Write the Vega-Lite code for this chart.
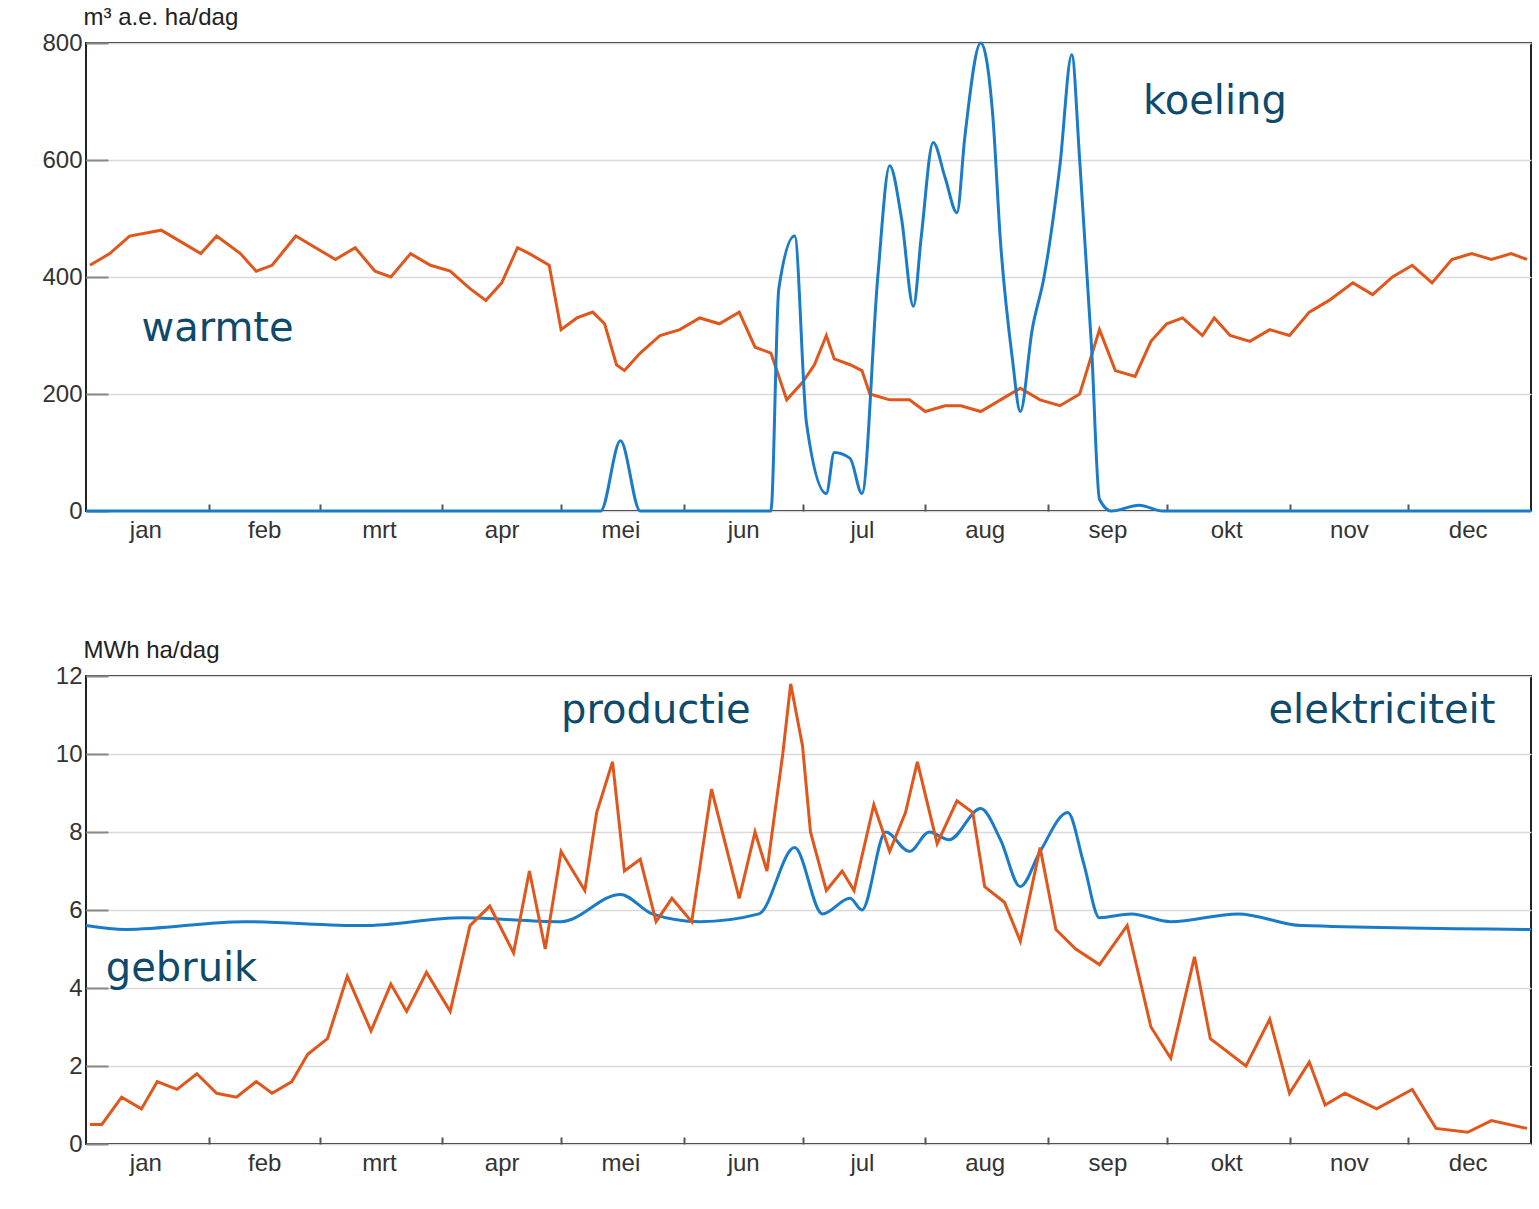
{
"$schema":"https://vega.github.io/schema/vega-lite/v6.json",
"background":"white",
"padding":{"left":40,"top":4,"right":5,"bottom":5},
"config":{"view":{"stroke":"#222","strokeWidth":2},"font":"Liberation Sans",
"axis":{"labelFont":"Liberation Sans","labelFontSize":24,"labelColor":"#333","titleFont":"Liberation Sans","titleFontSize":24,"titleFontWeight":"normal","titleColor":"#222","domain":false,"gridColor":"#d9d9d9","gridWidth":1.5,"tickColor":"#555","tickWidth":2}},
"datasets":{
"warmte":[{"d":1,"v":420},{"d":6,"v":440},{"d":11,"v":470},{"d":19,"v":480},{"d":24,"v":460},{"d":29,"v":440},{"d":33,"v":470},{"d":39,"v":440},{"d":43,"v":410},{"d":47,"v":420},{"d":53,"v":470},{"d":58,"v":450},{"d":63,"v":430},{"d":68,"v":450},{"d":73,"v":410},{"d":77,"v":400},{"d":82,"v":440},{"d":87,"v":420},{"d":92,"v":410},{"d":97,"v":380},{"d":101,"v":360},{"d":105,"v":390},{"d":109,"v":450},{"d":112,"v":440},{"d":117,"v":420},{"d":120,"v":310},{"d":124,"v":330},{"d":128,"v":340},{"d":131,"v":320},{"d":134,"v":250},{"d":136,"v":240},{"d":140,"v":270},{"d":145,"v":300},{"d":150,"v":310},{"d":155,"v":330},{"d":160,"v":320},{"d":165,"v":340},{"d":169,"v":280},{"d":173,"v":270},{"d":177,"v":190},{"d":181,"v":220},{"d":184,"v":250},{"d":187,"v":300},{"d":189,"v":260},{"d":193,"v":250},{"d":196,"v":240},{"d":198,"v":200},{"d":203,"v":190},{"d":208,"v":190},{"d":212,"v":170},{"d":217,"v":180},{"d":221,"v":180},{"d":226,"v":170},{"d":231,"v":190},{"d":236,"v":210},{"d":241,"v":190},{"d":246,"v":180},{"d":251,"v":200},{"d":256,"v":310},{"d":260,"v":240},{"d":265,"v":230},{"d":269,"v":290},{"d":273,"v":320},{"d":277,"v":330},{"d":282,"v":300},{"d":285,"v":330},{"d":289,"v":300},{"d":294,"v":290},{"d":299,"v":310},{"d":304,"v":300},{"d":309,"v":340},{"d":314,"v":360},{"d":320,"v":390},{"d":325,"v":370},{"d":330,"v":400},{"d":335,"v":420},{"d":340,"v":390},{"d":345,"v":430},{"d":350,"v":440},{"d":355,"v":430},{"d":360,"v":440},{"d":364,"v":430}],
"koeling":[{"d":0,"v":0},{"d":130,"v":0},{"d":135,"v":120},{"d":140,"v":0},{"d":173,"v":0},{"d":175,"v":380},{"d":179,"v":470},{"d":182,"v":150},{"d":187,"v":30},{"d":189,"v":100},{"d":193,"v":90},{"d":196,"v":30},{"d":200,"v":400},{"d":203,"v":590},{"d":206,"v":500},{"d":209,"v":350},{"d":211,"v":470},{"d":214,"v":630},{"d":217,"v":570},{"d":220,"v":510},{"d":222,"v":640},{"d":226,"v":800},{"d":229,"v":680},{"d":231,"v":460},{"d":234,"v":260},{"d":236,"v":170},{"d":239,"v":310},{"d":242,"v":400},{"d":246,"v":590},{"d":249,"v":780},{"d":251,"v":600},{"d":254,"v":280},{"d":256,"v":20},{"d":259,"v":0},{"d":266,"v":10},{"d":272,"v":0},{"d":365,"v":0}],
"gebruik":[{"d":0,"v":5.6},{"d":10,"v":5.5},{"d":40,"v":5.7},{"d":70,"v":5.6},{"d":95,"v":5.8},{"d":120,"v":5.7},{"d":135,"v":6.4},{"d":143,"v":5.9},{"d":155,"v":5.7},{"d":170,"v":5.9},{"d":179,"v":7.6},{"d":186,"v":5.9},{"d":193,"v":6.3},{"d":196,"v":6.0},{"d":202,"v":8.0},{"d":208,"v":7.5},{"d":213,"v":8.0},{"d":218,"v":7.8},{"d":226,"v":8.6},{"d":231,"v":7.8},{"d":236,"v":6.6},{"d":241,"v":7.5},{"d":248,"v":8.5},{"d":252,"v":7.2},{"d":256,"v":5.8},{"d":264,"v":5.9},{"d":274,"v":5.7},{"d":291,"v":5.9},{"d":307,"v":5.6},{"d":365,"v":5.5}],
"productie":[{"d":1,"v":0.5},{"d":4,"v":0.5},{"d":9,"v":1.2},{"d":14,"v":0.9},{"d":18,"v":1.6},{"d":23,"v":1.4},{"d":28,"v":1.8},{"d":33,"v":1.3},{"d":38,"v":1.2},{"d":43,"v":1.6},{"d":47,"v":1.3},{"d":52,"v":1.6},{"d":56,"v":2.3},{"d":61,"v":2.7},{"d":66,"v":4.3},{"d":72,"v":2.9},{"d":77,"v":4.1},{"d":81,"v":3.4},{"d":86,"v":4.4},{"d":92,"v":3.4},{"d":97,"v":5.6},{"d":102,"v":6.1},{"d":108,"v":4.9},{"d":112,"v":7.0},{"d":116,"v":5.0},{"d":120,"v":7.5},{"d":126,"v":6.5},{"d":129,"v":8.5},{"d":133,"v":9.8},{"d":136,"v":7.0},{"d":140,"v":7.3},{"d":144,"v":5.7},{"d":148,"v":6.3},{"d":153,"v":5.7},{"d":158,"v":9.1},{"d":165,"v":6.3},{"d":169,"v":8.0},{"d":172,"v":7.0},{"d":176,"v":10},{"d":178,"v":11.8},{"d":181,"v":10.2},{"d":183,"v":8.0},{"d":187,"v":6.5},{"d":191,"v":7.0},{"d":194,"v":6.5},{"d":199,"v":8.7},{"d":203,"v":7.5},{"d":207,"v":8.5},{"d":210,"v":9.8},{"d":215,"v":7.7},{"d":220,"v":8.8},{"d":224,"v":8.5},{"d":227,"v":6.6},{"d":232,"v":6.2},{"d":236,"v":5.2},{"d":241,"v":7.6},{"d":245,"v":5.5},{"d":250,"v":5.0},{"d":256,"v":4.6},{"d":263,"v":5.6},{"d":269,"v":3.0},{"d":274,"v":2.2},{"d":280,"v":4.8},{"d":284,"v":2.7},{"d":293,"v":2.0},{"d":299,"v":3.2},{"d":304,"v":1.3},{"d":309,"v":2.1},{"d":313,"v":1.0},{"d":318,"v":1.3},{"d":326,"v":0.9},{"d":335,"v":1.4},{"d":341,"v":0.4},{"d":349,"v":0.3},{"d":355,"v":0.6},{"d":364,"v":0.4}]
},
"vconcat":[
{"width":1445,"height":468,
"encoding":{"x":{"field":"d","type":"quantitative","scale":{"domain":[0,365],"nice":false,"zero":false},
"axis":{"title":null,"grid":false,"values":[15,31,45,59,74,90,105,120,135,151,166,181,196,212,227,243,258,273,288,304,319,334,349],
"labelExpr":"({'15':'jan','45':'feb','74':'mrt','105':'apr','135':'mei','166':'jun','196':'jul','227':'aug','258':'sep','288':'okt','319':'nov','349':'dec'})[''+datum.value] || ''",
"tickSize":-7,"tickOpacity":{"condition":{"test":"indexof([31,59,90,120,151,181,212,243,273,304,334],datum.value)>=0","value":1},"value":0},"labelPadding":14}},
"y":{"field":"v","type":"quantitative","scale":{"domain":[0,800]},
"axis":{"values":[0,200,400,600,800],"title":"m³ a.e. ha/dag","titleAngle":0,"titleAlign":"left","titleBaseline":"bottom","titleX":-3,"titleY":-14,"tickSize":-22,"labelPadding":26,"tickColor":"#888"}}},
"layer":[
{"data":{"name":"warmte"},"mark":{"type":"line","color":"#e0561b","strokeWidth":3}},
{"data":{"name":"koeling"},"mark":{"type":"line","color":"#1a7cc8","strokeWidth":3,"interpolate":"monotone"}},
{"data":{"values":[{"d":267,"v":700,"t":"koeling"},{"d":14,"v":311,"t":"warmte"}]},
"mark":{"type":"text","align":"left","baseline":"middle","font":"DejaVu Sans","fontSize":40,"color":"#0d4a6b"},"encoding":{"text":{"field":"t"}}}
]},
{"width":1445,"height":468,
"encoding":{"x":{"field":"d","type":"quantitative","scale":{"domain":[0,365],"nice":false,"zero":false},
"axis":{"title":null,"grid":false,"values":[15,31,45,59,74,90,105,120,135,151,166,181,196,212,227,243,258,273,288,304,319,334,349],
"labelExpr":"({'15':'jan','45':'feb','74':'mrt','105':'apr','135':'mei','166':'jun','196':'jul','227':'aug','258':'sep','288':'okt','319':'nov','349':'dec'})[''+datum.value] || ''",
"tickSize":-7,"tickOpacity":{"condition":{"test":"indexof([31,59,90,120,151,181,212,243,273,304,334],datum.value)>=0","value":1},"value":0},"labelPadding":14}},
"y":{"field":"v","type":"quantitative","scale":{"domain":[0,12]},
"axis":{"values":[0,2,4,6,8,10,12],"title":"MWh ha/dag","titleAngle":0,"titleAlign":"left","titleBaseline":"bottom","titleX":-3,"titleY":-14,"tickSize":-22,"labelPadding":26,"tickColor":"#888"}}},
"layer":[
{"data":{"name":"gebruik"},"mark":{"type":"line","color":"#1a7cc8","strokeWidth":3,"interpolate":"monotone"}},
{"data":{"name":"productie"},"mark":{"type":"line","color":"#e0561b","strokeWidth":3}},
{"data":{"values":[{"d":120,"v":11.1,"t":"productie"},{"d":5,"v":4.5,"t":"gebruik"}]},
"mark":{"type":"text","align":"left","baseline":"middle","font":"DejaVu Sans","fontSize":40,"color":"#0d4a6b"},"encoding":{"text":{"field":"t"}}},
{"data":{"values":[{"d":356,"v":11.1,"t":"elektriciteit"}]},
"mark":{"type":"text","align":"right","baseline":"middle","font":"DejaVu Sans","fontSize":40,"color":"#0d4a6b"},"encoding":{"text":{"field":"t"}}}
]}
],
"spacing":94
}
